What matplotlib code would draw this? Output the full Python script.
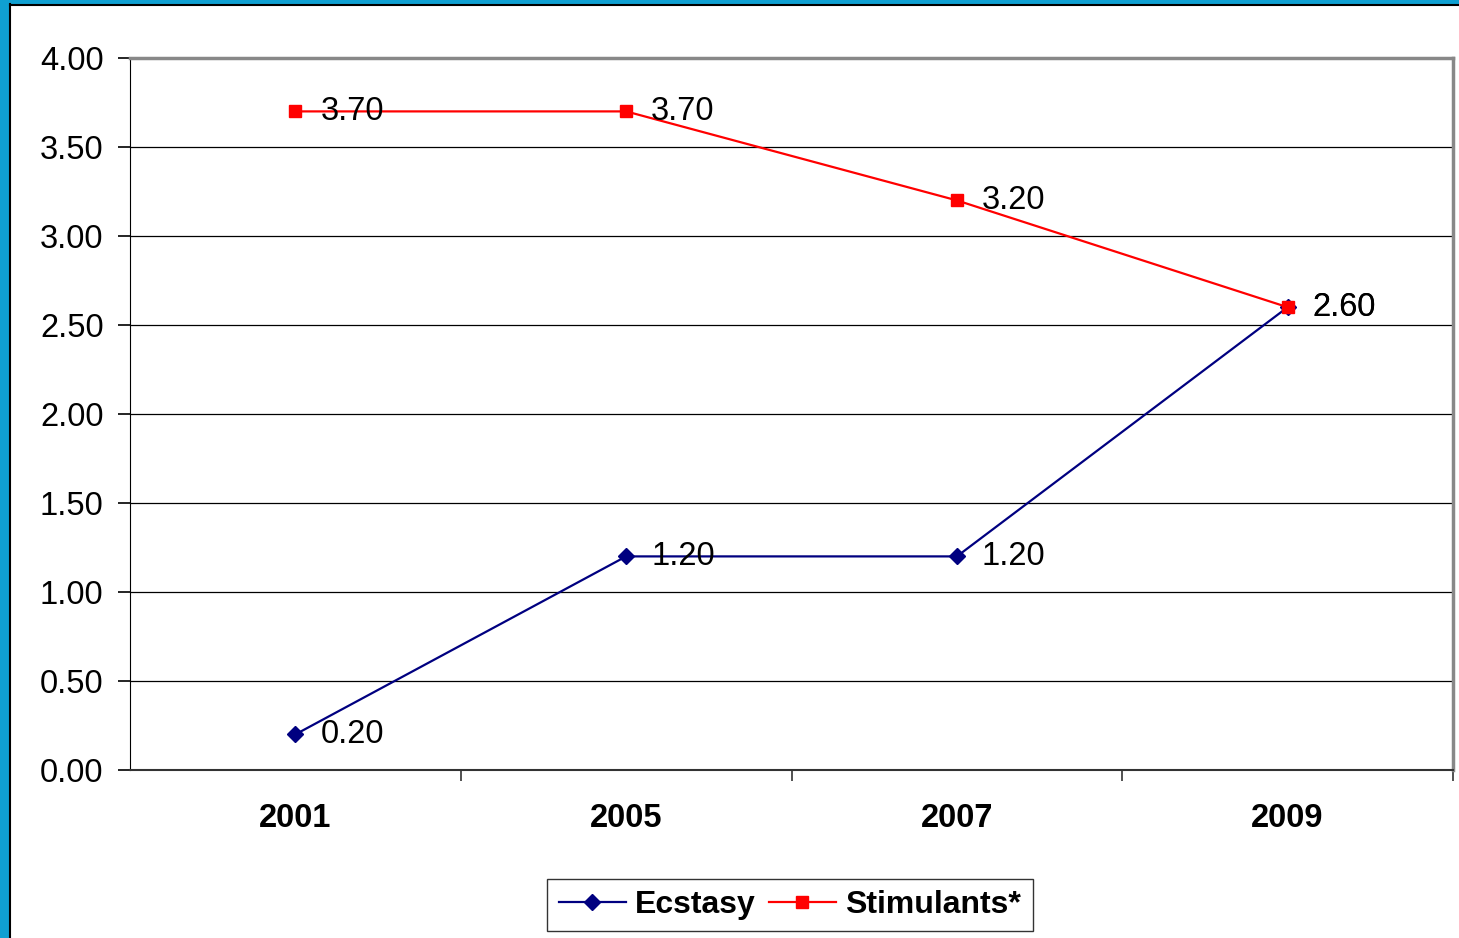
import matplotlib.pyplot as plt
from matplotlib.patches import Rectangle
from matplotlib.lines import Line2D

years = ['2001', '2005', '2007', '2009']
ecstasy = [0.20, 1.20, 1.20, 2.60]
stimulants = [3.70, 3.70, 3.20, 2.60]
y_ticks = [0.0, 0.5, 1.0, 1.5, 2.0, 2.5, 3.0, 3.5, 4.0]

plt.rcParams['font.family'] = ['Liberation Sans', 'DejaVu Sans']

fig = plt.figure(figsize=(14.59, 9.38), dpi=100)

# blue slide frame on the left and top
fig.patches.append(Rectangle((0, 0), 9 / 1459, 1, transform=fig.transFigure,
                             facecolor='#0fa0d2', edgecolor='none'))
fig.patches.append(Rectangle((0, 1 - 4 / 938), 1, 4 / 938, transform=fig.transFigure,
                             facecolor='#0fa0d2', edgecolor='none'))
fig.add_artist(Line2D([10 / 1459, 10 / 1459], [0, 1 - 4 / 938], transform=fig.transFigure,
                      color='black', lw=1.5))
fig.add_artist(Line2D([10 / 1459, 1], [1 - 5 / 938, 1 - 5 / 938], transform=fig.transFigure,
                      color='black', lw=1.5))

ax = fig.add_axes([130 / 1459, 1 - 770 / 938, 1323 / 1459, 712 / 938])
x = list(range(len(years)))

ax.plot(x, ecstasy, color='#000080', lw=1.6, marker='D', markersize=8.5,
        label='Ecstasy', zorder=3)
ax.plot(x, stimulants, color='#ff0000', lw=1.6, marker='s', markersize=9,
        label='Stimulants*', zorder=4)

for xi, v in zip(x, ecstasy):
    ax.annotate('%.2f' % v, (xi, v), xytext=(18, 0), textcoords='offset points',
                ha='left', va='center', fontsize=23.5, zorder=5)
for xi, v in zip(x, stimulants):
    ax.annotate('%.2f' % v, (xi, v), xytext=(18, 0), textcoords='offset points',
                ha='left', va='center', fontsize=23.5, zorder=5)

ax.set_xlim(-0.5, 3.5)
ax.set_ylim(0, 4)
ax.set_yticks(y_ticks)
ax.set_yticklabels(['%.2f' % t for t in y_ticks], fontsize=23.5)
ax.set_xticks(x)
ax.set_xticklabels(years, fontsize=23.5, fontweight='bold')
ax.set_xticks([0.5, 1.5, 2.5, 3.5], minor=True)
ax.tick_params(axis='x', which='major', length=0, pad=24)
ax.tick_params(axis='x', which='minor', length=8, width=1.2, color='#333333', direction='out')
ax.tick_params(axis='y', length=9, width=1.2, direction='out', pad=10)

ax.grid(axis='y', color='black', lw=0.9)
ax.set_axisbelow(True)
ax.spines['left'].set_color('black')
ax.spines['bottom'].set_color('#333333')
ax.spines['bottom'].set_linewidth(1.5)
ax.spines['top'].set_color('#888888')
ax.spines['top'].set_linewidth(2.5)
ax.spines['right'].set_color('#888888')
ax.spines['right'].set_linewidth(2.5)

leg = ax.legend(loc='center', bbox_to_anchor=(790 / 1459, 1 - 905 / 938),
                bbox_transform=fig.transFigure, ncol=2, frameon=True, fancybox=False,
                edgecolor='black', prop={'size': 23, 'weight': 'bold'},
                handlelength=2.1, handletextpad=0.3, columnspacing=0.4,
                borderpad=0.35, borderaxespad=0)
leg.get_frame().set_linewidth(1.0)

fig.savefig('out.png', dpi=100)
